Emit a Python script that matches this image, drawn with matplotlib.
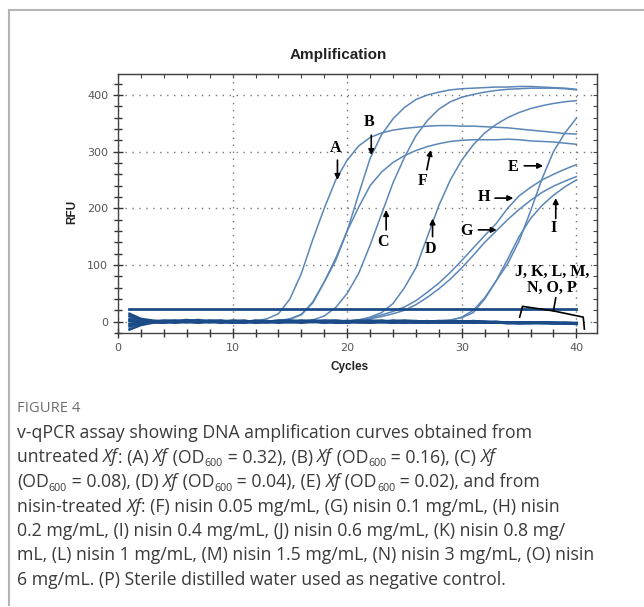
import matplotlib
matplotlib.use("Agg")
import matplotlib.pyplot as plt
from matplotlib.ticker import MultipleLocator
from matplotlib.font_manager import FontProperties

cycles = list(range(1, 41))

# amplified samples (RFU per cycle)
curve_A = [9, 3, 1, 0, -1, 1, 0, -1, 0, 1, 0, 1, 5, 14, 40, 85, 145, 200, 250, 285,
           310, 325, 333, 338, 341, 343, 345, 346, 346, 345, 345, 344, 343, 342, 340, 338, 336, 334, 332, 331]
curve_B = [-6, -2, 0, 1, 0, -1, 1, 0, -1, 0, 1, 0, 0, 2, 4, 12, 35, 70, 108, 160,
           225, 288, 330, 358, 378, 392, 400, 405, 409, 411, 412, 413, 414, 414, 415, 415, 414, 413, 412, 410]
curve_C = [-10, -3, -1, 0, 1, 0, 0, -1, 0, 1, 0, -1, 0, 1, 0, 1, 3, 10, 25, 50,
           85, 135, 190, 245, 290, 328, 355, 375, 388, 396, 401, 405, 408, 410, 411, 412, 412, 412, 411, 409]
curve_D = [5, 2, 0, -1, 0, 1, 0, -1, 0, 0, 1, 0, -1, 0, 1, 0, 0, 1, 0, 1,
           3, 8, 16, 32, 60, 95, 150, 205, 250, 285, 312, 333, 348, 360, 369, 376, 381, 385, 388, 390]
curve_E = [-13, -5, -2, 0, -1, 0, 1, 0, -1, 0, 0, 1, -1, 0, -1, 0, 1, 0, -1, 0,
           0, -1, 0, 1, 0, -1, 0, 1, 2, 8, 20, 42, 72, 102, 142, 195, 252, 300, 333, 359]
curve_F = [12, 4, 1, 0, 1, 0, -1, 0, 1, 0, -1, 0, 1, 2, 5, 13, 33, 70, 112, 160,
           202, 240, 264, 281, 293, 302, 309, 314, 318, 320, 321, 321, 321, 322, 321, 319, 318, 317, 315, 313]
curve_G = [3, 1, 0, -1, 0, 1, 0, 0, -1, 0, 1, 0, 0, -1, 0, 0, 1, 0, 1, 1,
           2, 5, 9, 14, 20, 30, 43, 58, 75, 95, 117, 140, 160, 180, 198, 214, 228, 239, 248, 256]
curve_H = [-3, -1, 0, 1, 0, -1, 0, 1, 0, -1, 0, 1, 0, 0, 1, 0, 1, 1, 2, 2,
           3, 7, 12, 18, 26, 37, 52, 68, 87, 108, 130, 152, 173, 200, 222, 237, 250, 260, 269, 277]
curve_I = [7, 2, 0, 1, -1, 0, 1, 0, -1, 0, 1, 0, 0, 1, -1, 0, 0, 1, 0, -1,
           0, 1, 0, 0, 1, 0, 1, 2, 3, 7, 16, 40, 72, 110, 150, 182, 205, 223, 238, 250]

# non-amplified samples J..P
curve_J = [14, 5, 2, 0, -2, 1, 3, 0, -2, 1, 2, -1, 0, 2, 1, -2, 0, 1, -1, 0,
           2, 1, -1, -2, 0, 1, -1, 0, -2, -1, 1, 0, -2, -1, -3, -2, -1, -3, -2, -3]
curve_K = [-8, -3, 0, 2, 1, -1, 0, 2, 1, -1, -2, 0, 1, -1, 0, 1, 2, 0, -1, -2,
           0, 1, 0, -1, 1, 0, -2, -1, 0, -1, -2, -1, 0, -2, -1, -2, -3, -2, -3, -2]
curve_L = [4, 1, -1, -2, 0, 2, 1, -1, 0, 2, 0, -2, -1, 0, -1, 0, 1, 2, 1, 0,
           -1, -2, -1, 1, 0, -1, 0, 1, -1, -2, 0, -1, -2, -1, -2, -3, -2, -2, -3, -4]
curve_M = [-14, -6, -2, 0, 1, 0, -1, 1, 2, 0, -1, 1, 0, -2, 0, 1, 0, -1, 0, 1,
           -1, 0, 2, 0, -1, -2, -1, 0, 1, 0, -1, -2, -1, -2, -3, -2, -1, -2, -3, -3]
curve_N = [10, 3, 0, -1, 1, 3, 0, -1, 1, 0, -1, 2, 1, 0, -1, -1, 1, 0, -2, -1,
           0, 2, 1, -1, -2, 0, 1, -1, -1, 0, -2, -1, -1, -3, -2, -1, -2, -3, -2, -3]
curve_O = [-4, -2, 1, 1, -1, -1, 2, 1, -1, -2, 0, 1, -1, 1, 2, 0, -1, 1, 2, 0,
           -1, -1, 0, 2, 1, -1, -1, 0, 0, 1, -1, -2, -1, -2, -2, -1, -2, -3, -3, -3]
curve_P = [1, 0, -1, 1, 2, 0, -2, 0, 1, -1, 1, 0, -1, 0, 1, 2, 0, -2, 0, 1,
           0, -1, 1, 0, 2, 1, 0, -2, -1, 0, 1, 0, -1, -1, -2, -2, -1, -2, -2, -3]

threshold = 22

amplified = [curve_A, curve_B, curve_C, curve_D, curve_E, curve_F, curve_G, curve_H, curve_I]
flat = [curve_J, curve_K, curve_L, curve_M, curve_N, curve_O, curve_P]

# caption: (text, kind) pieces, n = normal, i = italic, s = subscript
caption_lines = [
    [("v-qPCR assay showing DNA amplification curves obtained from", "n")],
    [("untreated ", "n"), ("Xf", "i"), (": (A) ", "n"), ("Xf", "i"), (" (OD", "n"), ("600", "s"),
     (" = 0.32), (B) ", "n"), ("Xf", "i"), (" (OD", "n"), ("600", "s"), (" = 0.16), (C) ", "n"), ("Xf", "i")],
    [("(OD", "n"), ("600", "s"), (" = 0.08), (D) ", "n"), ("Xf", "i"), (" (OD", "n"), ("600", "s"),
     (" = 0.04), (E) ", "n"), ("Xf", "i"), (" (OD", "n"), ("600", "s"), (" = 0.02), and from", "n")],
    [("nisin-treated ", "n"), ("Xf", "i"), (": (F) nisin 0.05 mg/mL, (G) nisin 0.1 mg/mL, (H) nisin", "n")],
    [("0.2 mg/mL, (I) nisin 0.4 mg/mL, (J) nisin 0.6 mg/mL, (K) nisin 0.8 mg/", "n")],
    [("mL, (L) nisin 1 mg/mL, (M) nisin 1.5 mg/mL, (N) nisin 3 mg/mL, (O) nisin", "n")],
    [("6 mg/mL. (P) Sterile distilled water used as negative control.", "n")],
]

fig = plt.figure(figsize=(6.44, 6.07), dpi=100)
ax = fig.add_axes([118/644, 1 - 333/607, (597 - 118)/644, (333 - 74)/607])

light = '#5b86b8'
dark = '#1c4c88'

for c in flat:
    ax.plot(cycles, c, color=dark, lw=1.8, zorder=3)
for c in amplified:
    ax.plot(cycles, c, color=light, lw=1.1, zorder=2)
ax.plot([cycles[0], cycles[-1]], [threshold, threshold], color=dark, lw=2.0, zorder=4)

ax.set_xlim(0, 41.8)
ax.set_ylim(-20, 437)
ax.xaxis.set_major_locator(MultipleLocator(10))
ax.xaxis.set_minor_locator(MultipleLocator(2))
ax.yaxis.set_major_locator(MultipleLocator(100))
ax.yaxis.set_minor_locator(MultipleLocator(20))
ax.grid(True, which='major', color='#777777', linestyle=(0, (1, 4)), lw=1.0)
ax.tick_params(which='both', direction='inout', colors='#333333', labelcolor='#555555', labelsize=8,
               top=False, right=False)
ax.tick_params(which='major', length=7, width=1)
ax.tick_params(which='minor', length=6, width=1)
ax.tick_params(axis='x', pad=4)
for s in ax.spines.values():
    s.set_color('#444444')
    s.set_linewidth(1.0)

# inner ticks on the top and right edges
ax2 = ax.secondary_xaxis('top')
ax2.xaxis.set_major_locator(MultipleLocator(2))
ax2.tick_params(direction='in', length=3, color='#444444', labeltop=False)
ax3 = ax.secondary_yaxis('right')
ax3.yaxis.set_major_locator(MultipleLocator(20))
ax3.tick_params(direction='in', length=3, color='#444444', labelright=False)

fig.text(338/644, 1 - 55/607, 'Amplification', ha='center', va='center', fontsize=11,
         fontweight='bold', family='Liberation Sans', color='#222222')
fig.text(72/644, 1 - 212/607, 'RFU', ha='center', va='center', rotation=90, fontsize=8.5,
         fontweight='bold', family='Liberation Sans', color='#222222')
fig.text(350/644, 1 - 367/607, 'Cycles', ha='center', va='center', fontsize=8.5,
         fontweight='bold', family='Liberation Sans', color='#222222')

lab = dict(fontsize=11.5, fontweight='bold', family='Liberation Serif', ha='center', va='center')
arr = dict(arrowstyle='-|>', color='black', lw=1.2, mutation_scale=8, shrinkA=0, shrinkB=0)

# letter, text position, arrow tail, arrow head
labels = [
    ('A', (18.95, 306), (19.15, 285), (19.15, 250)),
    ('B', (21.9, 353), (22.1, 329), (22.1, 294)),
    ('C', (23.1, 141), (23.4, 162), (23.4, 197)),
    ('D', (27.25, 129), (27.45, 150), (27.45, 182)),
    ('F', (26.6, 248), (26.95, 268), (27.3, 303)),
    ('E', (34.5, 273), (35.45, 275), (37.1, 275)),
    ('H', (31.9, 220), (32.9, 218), (34.5, 218)),
    ('G', (30.45, 160), (31.45, 162), (33.05, 162)),
    ('I', (38.0, 165), (38.2, 182), (38.2, 218)),
]
for name, tpos, tail, head in labels:
    ax.text(tpos[0], tpos[1], name, zorder=6, **lab)
    ax.annotate('', xy=head, xytext=tail, arrowprops=arr, zorder=6)

ax.text(37.9, 88, 'J, K, L, M,', zorder=6, **lab)
ax.text(37.9, 59, 'N, O, P', zorder=6, **lab)
ax.plot([35.05, 35.3, 38.0, 40.6, 40.7], [8, 27, 19, 8, -13], color='black', lw=1.2, zorder=6,
        clip_on=False)
ax.plot([38.0, 38.2], [19, 42], color='black', lw=1.2, zorder=6)

# caption card
fig.add_artist(plt.Line2D([9/644, 1], [1 - 10/607, 1 - 10/607], color='#b5b5b5', lw=1.5))
fig.add_artist(plt.Line2D([9/644, 9/644], [1 - 10/607, 1 - 605/607], color='#b5b5b5', lw=1.5))

fig.text(17/644, 1 - 408/607, 'FIGURE 4', ha='left', va='center', fontsize=10.6,
         family='Open Sans', color='#6e6e6e')

renderer = fig.canvas.get_renderer()
cap_size = 12.7


def advance(txt, prop):
    # width of txt including trailing spaces (measured against a trailing dot)
    w1, _, _ = renderer.get_text_width_height_descent(txt + '.', prop, ismath=False)
    w2, _, _ = renderer.get_text_width_height_descent('.', prop, ismath=False)
    return w1 - w2


for i, pieces in enumerate(caption_lines):
    x = 17.0
    base = 607 - (438 + 24.5*i)
    for txt, kind in pieces:
        size = cap_size * 0.6 if kind == 's' else cap_size
        style = 'italic' if kind == 'i' else 'normal'
        prop = FontProperties(family='Open Sans', size=size, style=style)
        y = base - (4.0 if kind == 's' else 0.0)
        fig.text(x/644, y/607, txt, fontproperties=prop, color='#3a3a3a', ha='left', va='baseline')
        x += advance(txt, prop)

fig.savefig('out.png', dpi=100)
